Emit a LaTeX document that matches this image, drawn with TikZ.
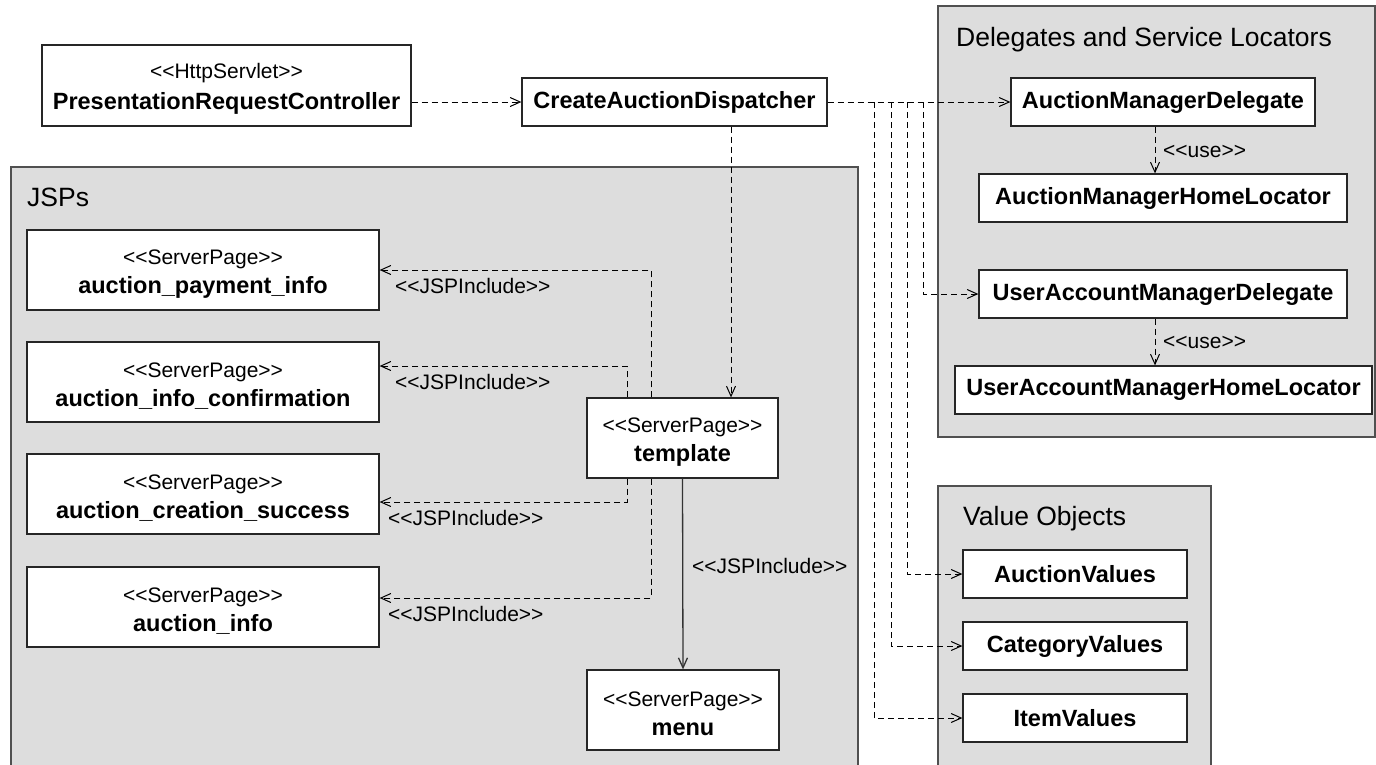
\documentclass[tikz,border=0pt]{standalone}
\usepackage{fontspec}
\setmainfont{Liberation Sans}
\usetikzlibrary{arrows.meta,calc}
\definecolor{pkgfill}{RGB}{221,221,221}
\definecolor{pkgline}{RGB}{80,80,80}
\newcommand\stO{<\kern0pt<}
\newcommand\stC{>\kern0pt>}
\newcommand\stfont{\fontsize{21}{29}\selectfont}
\newcommand\nmfont{\fontsize{23.5}{29}\selectfont\bfseries}
\newcommand\topstrut{\rule{0pt}{22pt}}
\tikzset{
  pkg/.style={fill=pkgfill, draw=pkgline, line width=1.6pt},
  cls/.style={draw=black!85, fill=white, line width=1.3pt, inner sep=0pt, align=center, font=\stfont},
  dep/.style={draw=black, line width=1pt, dash pattern=on 6pt off 4pt, -{Straight Barb[length=10pt,width=9pt]}},
  inc/.style={draw=black!80, line width=1.3pt, -{Straight Barb[length=10pt,width=9pt]}},
  lbl/.style={font=\stfont, inner sep=0pt, anchor=base west},
  ttl/.style={font=\fontsize{26.5}{30}\selectfont, inner sep=0pt, anchor=base west},
}
\begin{document}
\begin{tikzpicture}[x=1pt,y=-1pt]
\useasboundingbox (0,0) rectangle (1376,764);
\clip (0,0) rectangle (1376,764);
\fill[white] (0,0) rectangle (1376,764);

% packages
\draw[pkg] (11,167) rectangle (858,780);
\node[ttl] (tJSP) at (27,206) {JSPs};
\draw[pkg] (938,6) rectangle (1375,437);
\node[ttl] (tDel) at (956,46) {Delegates and Service Locators};
\draw[pkg] (938,486) rectangle (1211,780);
\node[ttl] (tVal) at (963,525.5) {Value Objects};

% classes
\node[cls, minimum width=369pt, minimum height=81pt] (PRC) at (226.5,85.5)
  {\topstrut\stO HttpServlet\stC\\[1.5pt]{\nmfont PresentationRequestController}};
\node[cls, minimum width=305pt, minimum height=48pt] (CAD) at (674.5,102)
  {\nmfont CreateAuctionDispatcher};

\node[cls, minimum width=352pt, minimum height=80pt] (payinfo) at (203,270)
  {\topstrut\stO ServerPage\stC\\{\nmfont auction\_payment\_info}};
\node[cls, minimum width=352pt, minimum height=80pt] (infoconf) at (203,382)
  {\topstrut\stO ServerPage\stC\\{\nmfont auction\_info\_confirmation}};
\node[cls, minimum width=352pt, minimum height=80pt] (success) at (203,494)
  {\topstrut\stO ServerPage\stC\\{\nmfont auction\_creation\_success}};
\node[cls, minimum width=352pt, minimum height=80pt] (ainfo) at (203,607)
  {\topstrut\stO ServerPage\stC\\{\nmfont auction\_info}};
\node[cls, minimum width=191pt, minimum height=80pt] (template) at (682.5,438)
  {\topstrut\stO ServerPage\stC\\{\nmfont template}};
\node[cls, minimum width=192pt, minimum height=80pt] (menu) at (683,710)
  {\topstrut\stO ServerPage\stC\\{\nmfont menu}};

\node[cls, minimum width=304pt, minimum height=48pt] (AMD) at (1163,102)
  {\nmfont AuctionManagerDelegate};
\node[cls, minimum width=368pt, minimum height=48pt] (AMHL) at (1163,198)
  {\nmfont AuctionManagerHomeLocator};
\node[cls, minimum width=368pt, minimum height=48pt] (UAMD) at (1163,294)
  {\nmfont UserAccountManagerDelegate};
\node[cls, minimum width=417pt, minimum height=48pt] (UAMHL) at (1163.5,390)
  {\nmfont UserAccountManagerHomeLocator};

\node[cls, minimum width=224pt, minimum height=48pt] (AV) at (1075,574)
  {\nmfont AuctionValues};
\node[cls, minimum width=224pt, minimum height=48pt] (CV) at (1075,646)
  {\nmfont CategoryValues};
\node[cls, minimum width=224pt, minimum height=48pt] (IV) at (1075,718)
  {\nmfont ItemValues};

% helper coordinates
\coordinate (xT) at (731,0);
\coordinate (xA) at (651,0);
\coordinate (xB) at (627,0);
\coordinate (xU) at (1155,0);
\coordinate (bIV) at (874,102);
\coordinate (bCV) at (891,102);
\coordinate (bAV) at (907,102);
\coordinate (bUA) at (923,102);

% connectors
\draw[dep] (CAD.west -| PRC.east) -- (CAD.west);
\draw[dep] (CAD.east) -- (AMD.west);
\draw[dep] (bUA) |- (UAMD.west);
\draw[dep] (bAV) |- (AV.west);
\draw[dep] (bCV) |- (CV.west);
\draw[dep] (bIV) |- (IV.west);
\draw[dep] (CAD.south -| xT) -- (template.north -| xT);

\draw[dep] (AMD.south -| xU) -- (AMHL.north -| xU);
\node[lbl] (use1) at (1163,157) {\stO use\stC};
\draw[dep] (UAMD.south -| xU) -- (UAMHL.north -| xU);
\node[lbl] (use2) at (1163,348.5) {\stO use\stC};

\draw[dep] (template.north -| xA) |- (payinfo.east);
\node[lbl] (inc1) at (395,293) {\stO JSPInclude\stC};
\draw[dep] (template.north -| xB) |- ([yshift=16pt]infoconf.east);
\node[lbl] (inc2) at (395,389) {\stO JSPInclude\stC};
\draw[dep] (template.south -| xB) |- ([yshift=-8pt]success.east);
\node[lbl] (inc3) at (388,525) {\stO JSPInclude\stC};
\draw[dep] (template.south -| xA) |- ([yshift=9pt]ainfo.east);
\node[lbl] (inc4) at (388,621) {\stO JSPInclude\stC};

\draw[inc] (template.south) -- (menu.north);
\node[lbl] (inc5) at (692,573) {\stO JSPInclude\stC};
\end{tikzpicture}
\end{document}
